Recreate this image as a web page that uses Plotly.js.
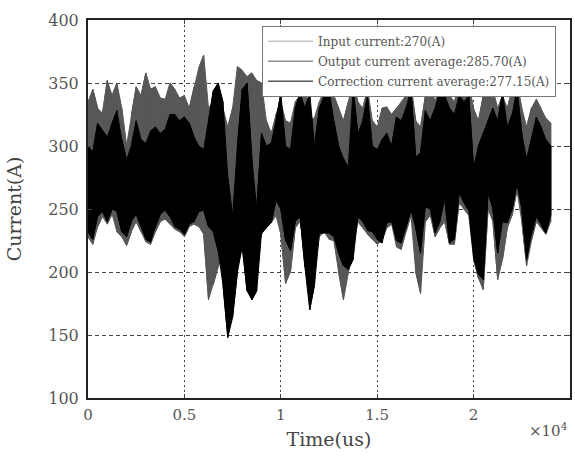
<!DOCTYPE html>
<html>
<head>
<meta charset="utf-8">
<script src="https://cdn.plot.ly/plotly-3.0.1.min.js"></script>
<style>html,body{margin:0;padding:0;background:#fff;}#chart{width:575px;height:457px;}</style>
</head>
<body>
<div id="chart"></div>
<script>
// time axis (us), one sample pair every 250 us
var timeUs = [0,250,500,750,1000,1250,1500,1750,2000,2250,2500,2750,3000,3250,3500,3750,4000,4250,4500,4750,5000,5250,5500,5750,6000,6250,6500,6750,7000,7250,7500,7750,8000,8250,8500,8750,9000,9250,9500,9750,10000,10250,10500,10750,11000,11250,11500,11750,12000,12250,12500,12750,13000,13250,13500,13750,14000,14250,14500,14750,15000,15250,15500,15750,16000,16250,16500,16750,17000,17250,17500,17750,18000,18250,18500,18750,19000,19250,19500,19750,20000,20250,20500,20750,21000,21250,21500,21750,22000,22250,22500,22750,23000,23250,23500,23750,24000];

// output current: local max / min envelope (A)
var outputHi = [335,345,330,326,352,340,350,330,300,325,347,340,358,345,347,338,337,350,345,338,340,330,347,362,372,330,335,340,330,315,330,363,360,355,358,352,350,320,310,325,335,320,318,335,340,345,322,322,335,345,350,340,330,320,335,350,335,330,345,320,315,330,331,325,330,335,340,348,320,315,340,348,335,350,345,340,335,350,345,348,330,320,340,348,345,330,340,330,345,350,330,315,330,337,330,322,318];
var outputLo = [228,222,236,244,238,246,232,228,221,232,240,232,224,222,232,240,242,238,234,232,228,236,238,236,230,178,190,204,215,210,217,220,225,200,195,215,230,236,239,245,230,191,200,235,240,220,175,200,228,232,226,225,200,178,200,220,240,235,230,226,222,225,235,238,220,218,232,245,200,183,240,245,228,235,240,222,222,255,250,245,210,195,186,250,240,194,210,235,245,265,240,205,225,240,235,230,240];

// correction current: local max / min envelope (A)
var corrHi = [300,295,318,312,307,318,328,305,289,300,320,305,302,312,315,310,313,325,325,320,323,318,307,300,297,320,344,350,335,275,244,300,345,350,290,250,310,300,302,320,342,300,297,330,342,330,342,300,330,340,345,320,300,290,283,345,310,320,340,300,297,305,310,300,323,320,330,345,291,295,328,320,330,345,340,330,325,340,335,340,283,300,310,320,330,320,342,315,325,345,310,289,305,323,315,305,300];
var corrLo = [232,226,244,248,240,250,248,232,228,240,246,236,226,224,236,246,249,244,236,234,230,238,240,248,249,236,232,217,190,148,164,200,220,185,178,185,231,235,239,257,250,225,217,240,244,204,170,190,231,231,231,228,215,205,202,210,244,240,233,232,226,223,239,240,225,223,236,249,235,215,252,250,231,240,258,223,226,263,255,249,212,198,194,263,250,215,240,239,250,270,250,210,230,244,238,231,245];

// reference input current (A)
var inputLevel = 270;

var xTickVals = [0,5000,10000,15000,20000,25000];
var xTickText = ['0','0.5','1','1.5','2','2.5'];

var legendNames = ['Input current:270(A)','Output current average:285.70(A)','Correction current average:277.15(A)'];

function band(hi, lo) {
  var xs = timeUs.slice(), ys = hi.slice();
  for (var i = timeUs.length - 1; i >= 0; i--) { xs.push(timeUs[i]); ys.push(lo[i]); }
  xs.push(timeUs[0]); ys.push(hi[0]);
  return {x: xs, y: ys};
}
function zigzag(hi, lo) {
  var xs = [], ys = [];
  for (var i = 0; i < timeUs.length; i++) {
    xs.push(timeUs[i], timeUs[i]);
    if (i % 2 === 0) ys.push(hi[i], lo[i]); else ys.push(lo[i], hi[i]);
  }
  return {x: xs, y: ys};
}

var outB = band(outputHi, outputLo), outZ = zigzag(outputHi, outputLo);
var corB = band(corrHi, corrLo), corZ = zigzag(corrHi, corrLo);

var traces = [
  {x: [timeUs[0], timeUs[timeUs.length-1]], y: [inputLevel, inputLevel], mode: 'lines', name: legendNames[0],
   legendgroup: 'a', line: {color: '#c4c4c4', width: 1.5}},
  {x: outB.x, y: outB.y, mode: 'lines', fill: 'toself', fillcolor: '#575757', showlegend: false,
   legendgroup: 'b', line: {color: '#575757', width: 1}, hoverinfo: 'skip'},
  {x: outZ.x, y: outZ.y, mode: 'lines', name: legendNames[1], legendgroup: 'b',
   line: {color: '#575757', width: 1}},
  {x: corB.x, y: corB.y, mode: 'lines', fill: 'toself', fillcolor: '#000000', showlegend: false,
   legendgroup: 'c', line: {color: '#000000', width: 1}, hoverinfo: 'skip'},
  {x: corZ.x, y: corZ.y, mode: 'lines', name: legendNames[2], legendgroup: 'c',
   line: {color: '#000000', width: 1}}
];

var fontFam = '"DejaVu Serif", "Liberation Serif", serif';

var layout = {
  width: 575, height: 457,
  margin: {l: 88, r: 5, t: 20, b: 59},
  paper_bgcolor: '#fff', plot_bgcolor: '#fff',
  font: {family: fontFam, color: '#555', size: 15},
  showlegend: true,
  legend: {x: 0.361, y: 0.985, xanchor: 'left', yanchor: 'top', bgcolor: '#fff', bordercolor: '#777', borderwidth: 1,
           font: {family: fontFam, size: 12, color: '#555'}, traceorder: 'grouped', tracegroupgap: 1,
           itemwidth: 45},
  xaxis: {range: [0, 25000], tickvals: xTickVals, ticktext: xTickText, showgrid: true, gridcolor: '#444', gridwidth: 1,
          griddash: '2px,3px', zeroline: false, showline: true, linecolor: '#222', linewidth: 2, mirror: 'ticks',
          ticks: 'inside', ticklen: 4, tickcolor: '#444', tickfont: {family: fontFam, size: 15, color: '#555'},
          ticklabelstandoff: 2,
          title: {text: 'Time(us)', font: {family: fontFam, size: 19, color: '#444'}, standoff: 10}},
  yaxis: {range: [100, 400], dtick: 50, tick0: 100, showgrid: true, gridcolor: '#444', gridwidth: 1,
          griddash: '4px,3px', zeroline: false, showline: true, linecolor: '#222', linewidth: 2, mirror: 'ticks',
          ticks: 'inside', ticklen: 4, tickcolor: '#444', tickfont: {family: fontFam, size: 16, color: '#555'},
          ticklabelstandoff: 4,
          title: {text: 'Current(A)', font: {family: fontFam, size: 19, color: '#444'}, standoff: 22}},
  annotations: [{xref: 'paper', yref: 'paper', x: 1.0, y: -0.085, xanchor: 'right', yanchor: 'middle', showarrow: false,
                 text: '×10<sup>4</sup>', font: {family: fontFam, size: 15, color: '#555'}}]
};

Plotly.newPlot('chart', traces, layout, {displayModeBar: false, staticPlot: true});
</script>
</body>
</html>
